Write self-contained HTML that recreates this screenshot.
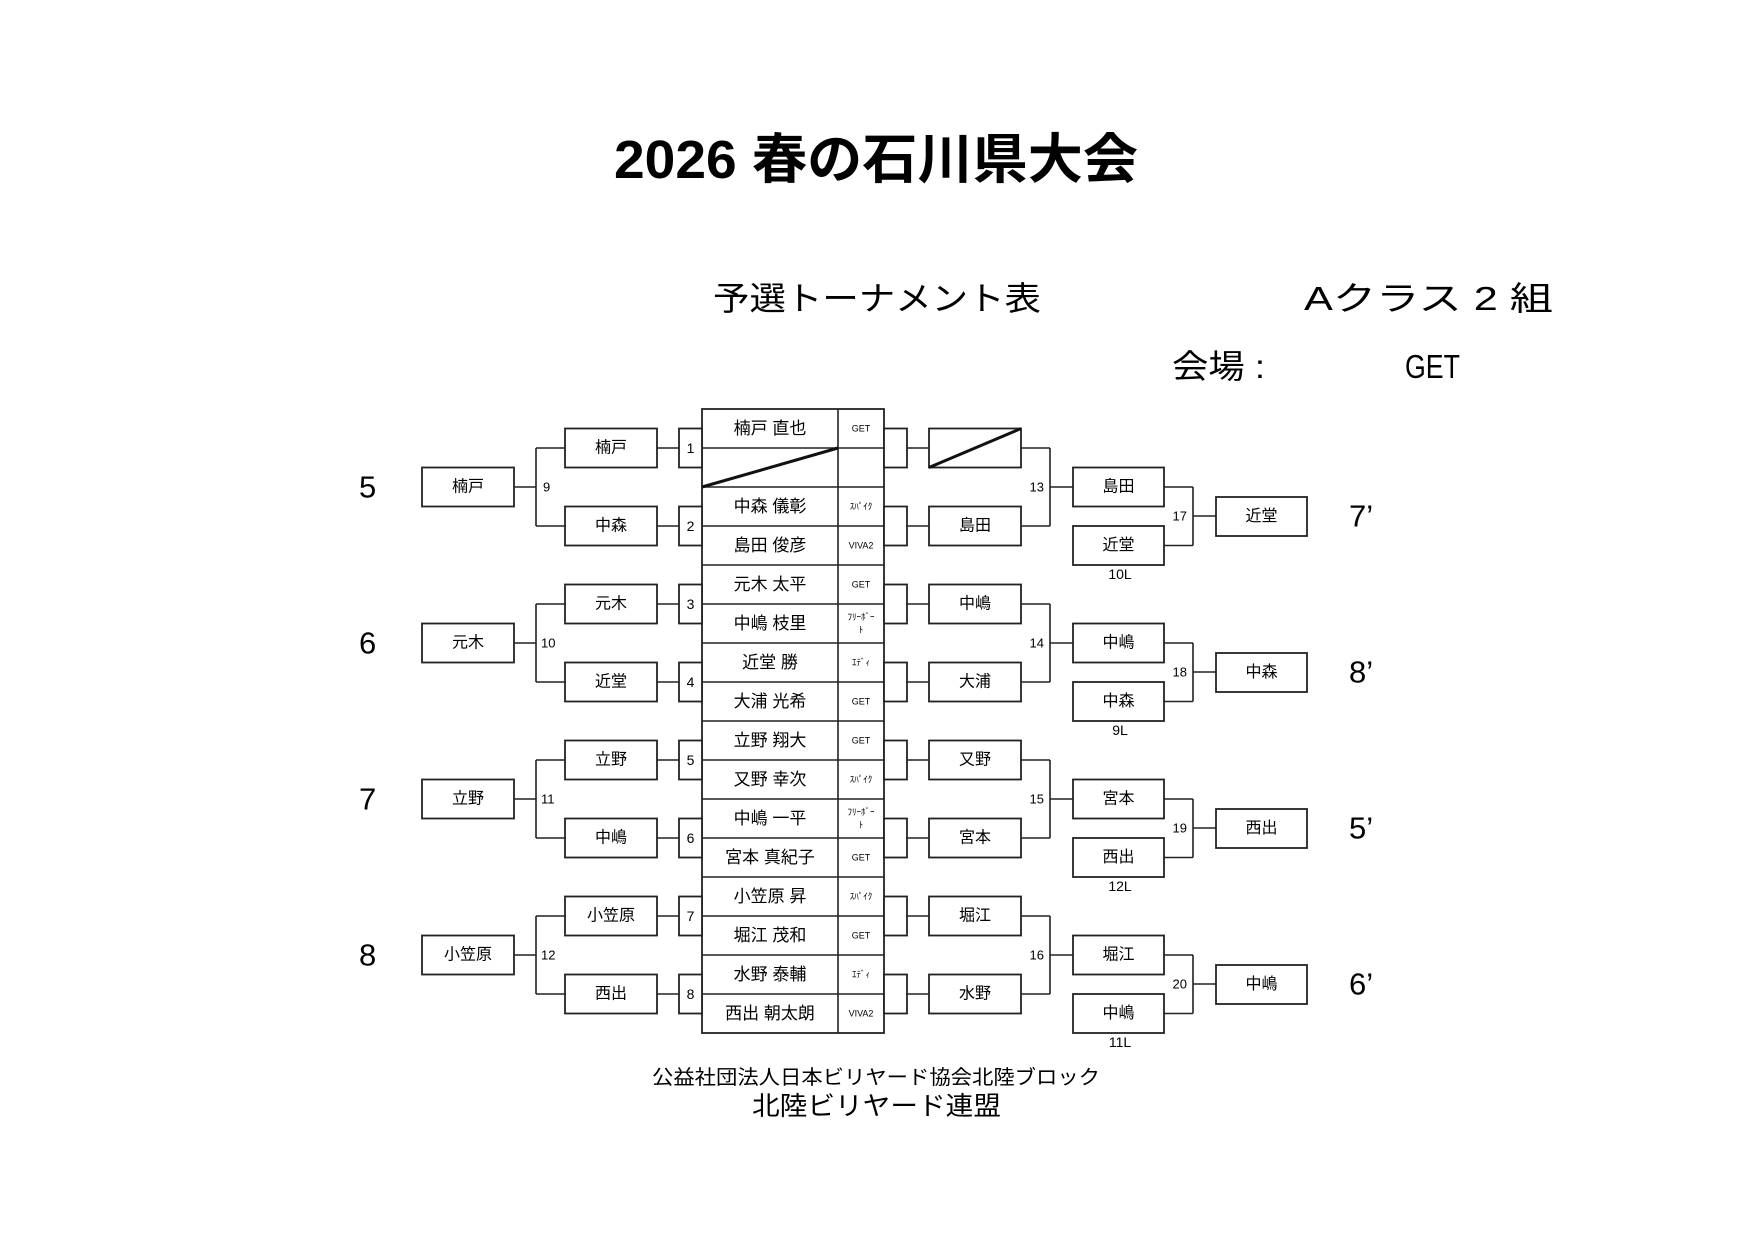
<!DOCTYPE html>
<html><head><meta charset="utf-8"><style>
html,body{margin:0;padding:0;background:#fff;}
svg{display:block;}
text{font-family:"Liberation Sans","Noto Sans CJK JP",sans-serif;fill:#000;}
.b{fill:#fff;stroke:#222;stroke-width:1.8;}
.l{stroke:#222;stroke-width:1.6;fill:none;}
.n{font-size:16px;text-anchor:middle;dominant-baseline:central;}
.m{font-size:14px;text-anchor:middle;dominant-baseline:central;}
.s{font-size:13px;dominant-baseline:central;}
.big{font-size:31px;dominant-baseline:central;}
.t{font-size:17px;text-anchor:middle;dominant-baseline:central;}
.c{font-size:9px;text-anchor:middle;dominant-baseline:central;}
</style></head><body>
<svg width="1754" height="1240" viewBox="0 0 1754 1240" xmlns="http://www.w3.org/2000/svg">
<text x="614" y="178" font-size="54" font-weight="bold" textLength="524" lengthAdjust="spacingAndGlyphs">2026 春の石川県大会</text>
<text x="713" y="310" font-size="33" textLength="328" lengthAdjust="spacingAndGlyphs">予選トーナメント表</text>
<text x="1304" y="310" font-size="33" textLength="249" lengthAdjust="spacingAndGlyphs">Aクラス 2 組</text>
<text x="1172" y="378" font-size="33" textLength="93" lengthAdjust="spacingAndGlyphs">会場 :</text>
<text x="1405" y="378" font-size="33" textLength="55" lengthAdjust="spacingAndGlyphs">GET</text>

<!-- center table -->
<rect x="702" y="409" width="182" height="624" class="b"/>
<line x1="838" y1="409" x2="838" y2="1033" class="l"/>
<g class="l">
<line x1="702" y1="448" x2="884" y2="448"/><line x1="702" y1="487" x2="884" y2="487"/>
<line x1="702" y1="526" x2="884" y2="526"/><line x1="702" y1="565" x2="884" y2="565"/>
<line x1="702" y1="604" x2="884" y2="604"/><line x1="702" y1="643" x2="884" y2="643"/>
<line x1="702" y1="682" x2="884" y2="682"/><line x1="702" y1="721" x2="884" y2="721"/>
<line x1="702" y1="760" x2="884" y2="760"/><line x1="702" y1="799" x2="884" y2="799"/>
<line x1="702" y1="838" x2="884" y2="838"/><line x1="702" y1="877" x2="884" y2="877"/>
<line x1="702" y1="916" x2="884" y2="916"/><line x1="702" y1="955" x2="884" y2="955"/>
<line x1="702" y1="994" x2="884" y2="994"/>
</g>
<line x1="702" y1="487" x2="838" y2="448" stroke="#111" stroke-width="3"/>
<text class="t" x="770" y="428.5">楠戸 直也</text><text class="c" x="861" y="428.5">GET</text>
<text class="t" x="770" y="506.5">中森 儀彰</text><text class="c" x="861" y="506.5">ｽﾊﾟｲｸ</text>
<text class="t" x="770" y="545.5">島田 俊彦</text><text class="c" x="861" y="545.5">VIVA2</text>
<text class="t" x="770" y="584.5">元木 太平</text><text class="c" x="861" y="584.5">GET</text>
<text class="t" x="770" y="623.5">中嶋 枝里</text><text class="c" x="861" y="617">ﾌﾘｰﾎﾞｰ</text><text class="c" x="861" y="630">ﾄ</text>
<text class="t" x="770" y="662.5">近堂 勝</text><text class="c" x="861" y="662.5">ｴﾃﾞｨ</text>
<text class="t" x="770" y="701.5">大浦 光希</text><text class="c" x="861" y="701.5">GET</text>
<text class="t" x="770" y="740.5">立野 翔大</text><text class="c" x="861" y="740.5">GET</text>
<text class="t" x="770" y="779.5">又野 幸次</text><text class="c" x="861" y="779.5">ｽﾊﾟｲｸ</text>
<text class="t" x="770" y="818.5">中嶋 一平</text><text class="c" x="861" y="812">ﾌﾘｰﾎﾞｰ</text><text class="c" x="861" y="825">ﾄ</text>
<text class="t" x="770" y="857.5">宮本 真紀子</text><text class="c" x="861" y="857.5">GET</text>
<text class="t" x="770" y="896.5">小笠原 昇</text><text class="c" x="861" y="896.5">ｽﾊﾟｲｸ</text>
<text class="t" x="770" y="935.5">堀江 茂和</text><text class="c" x="861" y="935.5">GET</text>
<text class="t" x="770" y="974.5">水野 泰輔</text><text class="c" x="861" y="974.5">ｴﾃﾞｨ</text>
<text class="t" x="770" y="1013.5">西出 朝太朗</text><text class="c" x="861" y="1013.5">VIVA2</text>

<!-- GROUP 0 -->
<g transform="translate(0,409)">
<g class="l">
<line x1="514" y1="78" x2="536" y2="78"/><line x1="536" y1="39" x2="536" y2="117"/>
<line x1="536" y1="39" x2="565" y2="39"/><line x1="536" y1="117" x2="565" y2="117"/>
<line x1="657" y1="39" x2="679" y2="39"/><line x1="657" y1="117" x2="679" y2="117"/>
<line x1="907" y1="39" x2="929" y2="39"/><line x1="907" y1="117" x2="929" y2="117"/>
<line x1="1021" y1="39" x2="1050" y2="39"/><line x1="1021" y1="117" x2="1050" y2="117"/>
<line x1="1050" y1="39" x2="1050" y2="117"/><line x1="1050" y1="78" x2="1073" y2="78"/>
<line x1="1164" y1="78" x2="1193" y2="78"/><line x1="1164" y1="136.5" x2="1193" y2="136.5"/>
<line x1="1193" y1="78" x2="1193" y2="136.5"/><line x1="1193" y1="107" x2="1216" y2="107"/>
</g>
<rect class="b" x="422" y="58.5" width="92" height="39"/>
<rect class="b" x="565" y="19.5" width="92" height="39"/><rect class="b" x="565" y="97.5" width="92" height="39"/>
<rect class="b" x="679" y="19.5" width="23" height="39"/><rect class="b" x="679" y="97.5" width="23" height="39"/>
<rect class="b" x="884" y="19.5" width="23" height="39"/><rect class="b" x="884" y="97.5" width="23" height="39"/>
<rect class="b" x="929" y="19.5" width="92" height="39"/><rect class="b" x="929" y="97.5" width="92" height="39"/>
<rect class="b" x="1073" y="58.5" width="91" height="39"/><rect class="b" x="1073" y="117" width="91" height="39"/>
<rect class="b" x="1216" y="88" width="91" height="39"/>
<text class="big" x="359" y="78">5</text>
<text class="n" x="468" y="78">楠戸</text>
<text class="s" x="543" y="78">9</text>
<text class="n" x="611" y="39">楠戸</text><text class="n" x="611" y="117">中森</text>
<text class="m" x="690.5" y="39">1</text><text class="m" x="690.5" y="117">2</text>
<line x1="929" y1="58.5" x2="1021" y2="19.5" stroke="#111" stroke-width="3"/>
<text class="n" x="975" y="117">島田</text>
<text class="s" x="1044" y="78" text-anchor="end">13</text>
<text class="n" x="1118.5" y="78">島田</text><text class="n" x="1118.5" y="136.5">近堂</text>
<text class="m" x="1120" y="165">10L</text>
<text class="s" x="1187" y="107" text-anchor="end">17</text>
<text class="n" x="1261.5" y="107.5">近堂</text>
<text class="big" x="1349" y="107">7’</text>
</g>

<!-- GROUP 1 -->
<g transform="translate(0,565)">
<g class="l">
<line x1="514" y1="78" x2="536" y2="78"/><line x1="536" y1="39" x2="536" y2="117"/>
<line x1="536" y1="39" x2="565" y2="39"/><line x1="536" y1="117" x2="565" y2="117"/>
<line x1="657" y1="39" x2="679" y2="39"/><line x1="657" y1="117" x2="679" y2="117"/>
<line x1="907" y1="39" x2="929" y2="39"/><line x1="907" y1="117" x2="929" y2="117"/>
<line x1="1021" y1="39" x2="1050" y2="39"/><line x1="1021" y1="117" x2="1050" y2="117"/>
<line x1="1050" y1="39" x2="1050" y2="117"/><line x1="1050" y1="78" x2="1073" y2="78"/>
<line x1="1164" y1="78" x2="1193" y2="78"/><line x1="1164" y1="136.5" x2="1193" y2="136.5"/>
<line x1="1193" y1="78" x2="1193" y2="136.5"/><line x1="1193" y1="107" x2="1216" y2="107"/>
</g>
<rect class="b" x="422" y="58.5" width="92" height="39"/>
<rect class="b" x="565" y="19.5" width="92" height="39"/><rect class="b" x="565" y="97.5" width="92" height="39"/>
<rect class="b" x="679" y="19.5" width="23" height="39"/><rect class="b" x="679" y="97.5" width="23" height="39"/>
<rect class="b" x="884" y="19.5" width="23" height="39"/><rect class="b" x="884" y="97.5" width="23" height="39"/>
<rect class="b" x="929" y="19.5" width="92" height="39"/><rect class="b" x="929" y="97.5" width="92" height="39"/>
<rect class="b" x="1073" y="58.5" width="91" height="39"/><rect class="b" x="1073" y="117" width="91" height="39"/>
<rect class="b" x="1216" y="88" width="91" height="39"/>
<text class="big" x="359" y="78">6</text>
<text class="n" x="468" y="78">元木</text>
<text class="s" x="541" y="78">10</text>
<text class="n" x="611" y="39">元木</text><text class="n" x="611" y="117">近堂</text>
<text class="m" x="690.5" y="39">3</text><text class="m" x="690.5" y="117">4</text>
<text class="n" x="975" y="39">中嶋</text><text class="n" x="975" y="117">大浦</text>
<text class="s" x="1044" y="78" text-anchor="end">14</text>
<text class="n" x="1118.5" y="78">中嶋</text><text class="n" x="1118.5" y="136.5">中森</text>
<text class="m" x="1120" y="165">9L</text>
<text class="s" x="1187" y="107" text-anchor="end">18</text>
<text class="n" x="1261.5" y="107.5">中森</text>
<text class="big" x="1349" y="107">8’</text>
</g>

<!-- GROUP 2 -->
<g transform="translate(0,721)">
<g class="l">
<line x1="514" y1="78" x2="536" y2="78"/><line x1="536" y1="39" x2="536" y2="117"/>
<line x1="536" y1="39" x2="565" y2="39"/><line x1="536" y1="117" x2="565" y2="117"/>
<line x1="657" y1="39" x2="679" y2="39"/><line x1="657" y1="117" x2="679" y2="117"/>
<line x1="907" y1="39" x2="929" y2="39"/><line x1="907" y1="117" x2="929" y2="117"/>
<line x1="1021" y1="39" x2="1050" y2="39"/><line x1="1021" y1="117" x2="1050" y2="117"/>
<line x1="1050" y1="39" x2="1050" y2="117"/><line x1="1050" y1="78" x2="1073" y2="78"/>
<line x1="1164" y1="78" x2="1193" y2="78"/><line x1="1164" y1="136.5" x2="1193" y2="136.5"/>
<line x1="1193" y1="78" x2="1193" y2="136.5"/><line x1="1193" y1="107" x2="1216" y2="107"/>
</g>
<rect class="b" x="422" y="58.5" width="92" height="39"/>
<rect class="b" x="565" y="19.5" width="92" height="39"/><rect class="b" x="565" y="97.5" width="92" height="39"/>
<rect class="b" x="679" y="19.5" width="23" height="39"/><rect class="b" x="679" y="97.5" width="23" height="39"/>
<rect class="b" x="884" y="19.5" width="23" height="39"/><rect class="b" x="884" y="97.5" width="23" height="39"/>
<rect class="b" x="929" y="19.5" width="92" height="39"/><rect class="b" x="929" y="97.5" width="92" height="39"/>
<rect class="b" x="1073" y="58.5" width="91" height="39"/><rect class="b" x="1073" y="117" width="91" height="39"/>
<rect class="b" x="1216" y="88" width="91" height="39"/>
<text class="big" x="359" y="78">7</text>
<text class="n" x="468" y="78">立野</text>
<text class="s" x="541" y="78">11</text>
<text class="n" x="611" y="39">立野</text><text class="n" x="611" y="117">中嶋</text>
<text class="m" x="690.5" y="39">5</text><text class="m" x="690.5" y="117">6</text>
<text class="n" x="975" y="39">又野</text><text class="n" x="975" y="117">宮本</text>
<text class="s" x="1044" y="78" text-anchor="end">15</text>
<text class="n" x="1118.5" y="78">宮本</text><text class="n" x="1118.5" y="136.5">西出</text>
<text class="m" x="1120" y="165">12L</text>
<text class="s" x="1187" y="107" text-anchor="end">19</text>
<text class="n" x="1261.5" y="107.5">西出</text>
<text class="big" x="1349" y="107">5’</text>
</g>

<!-- GROUP 3 -->
<g transform="translate(0,877)">
<g class="l">
<line x1="514" y1="78" x2="536" y2="78"/><line x1="536" y1="39" x2="536" y2="117"/>
<line x1="536" y1="39" x2="565" y2="39"/><line x1="536" y1="117" x2="565" y2="117"/>
<line x1="657" y1="39" x2="679" y2="39"/><line x1="657" y1="117" x2="679" y2="117"/>
<line x1="907" y1="39" x2="929" y2="39"/><line x1="907" y1="117" x2="929" y2="117"/>
<line x1="1021" y1="39" x2="1050" y2="39"/><line x1="1021" y1="117" x2="1050" y2="117"/>
<line x1="1050" y1="39" x2="1050" y2="117"/><line x1="1050" y1="78" x2="1073" y2="78"/>
<line x1="1164" y1="78" x2="1193" y2="78"/><line x1="1164" y1="136.5" x2="1193" y2="136.5"/>
<line x1="1193" y1="78" x2="1193" y2="136.5"/><line x1="1193" y1="107" x2="1216" y2="107"/>
</g>
<rect class="b" x="422" y="58.5" width="92" height="39"/>
<rect class="b" x="565" y="19.5" width="92" height="39"/><rect class="b" x="565" y="97.5" width="92" height="39"/>
<rect class="b" x="679" y="19.5" width="23" height="39"/><rect class="b" x="679" y="97.5" width="23" height="39"/>
<rect class="b" x="884" y="19.5" width="23" height="39"/><rect class="b" x="884" y="97.5" width="23" height="39"/>
<rect class="b" x="929" y="19.5" width="92" height="39"/><rect class="b" x="929" y="97.5" width="92" height="39"/>
<rect class="b" x="1073" y="58.5" width="91" height="39"/><rect class="b" x="1073" y="117" width="91" height="39"/>
<rect class="b" x="1216" y="88" width="91" height="39"/>
<text class="big" x="359" y="78">8</text>
<text class="n" x="468" y="78">小笠原</text>
<text class="s" x="541" y="78">12</text>
<text class="n" x="611" y="39">小笠原</text><text class="n" x="611" y="117">西出</text>
<text class="m" x="690.5" y="39">7</text><text class="m" x="690.5" y="117">8</text>
<text class="n" x="975" y="39">堀江</text><text class="n" x="975" y="117">水野</text>
<text class="s" x="1044" y="78" text-anchor="end">16</text>
<text class="n" x="1118.5" y="78">堀江</text><text class="n" x="1118.5" y="136.5">中嶋</text>
<text class="m" x="1120" y="165">11L</text>
<text class="s" x="1187" y="107" text-anchor="end">20</text>
<text class="n" x="1261.5" y="107.5">中嶋</text>
<text class="big" x="1349" y="107">6’</text>
</g>

<text x="652" y="1084" font-size="20" textLength="448" lengthAdjust="spacingAndGlyphs">公益社団法人日本ビリヤード協会北陸ブロック</text>
<text x="752" y="1115" font-size="26" textLength="249" lengthAdjust="spacingAndGlyphs">北陸ビリヤード連盟</text>
</svg>
</body></html>
